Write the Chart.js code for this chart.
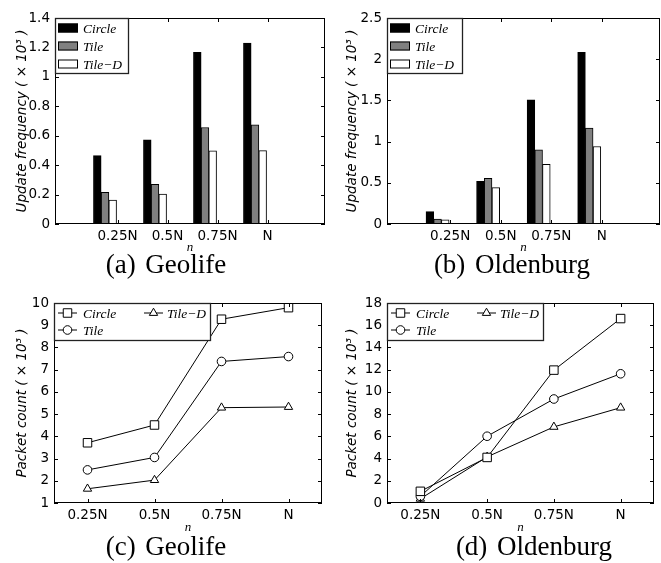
<!DOCTYPE html>
<html>
<head>
<meta charset="utf-8">
<script src="https://cdn.jsdelivr.net/npm/chart.js@4.4.0/dist/chart.umd.min.js"></script>
<style>
  body { margin: 0; background: #fff; width: 661px; height: 563px; position: relative; overflow: hidden; }
  canvas { position: absolute; }
  .cap { position: absolute; font-family: 'Liberation Serif', serif; font-size: 27px; line-height: 1;
         word-spacing: 3px; transform: translateX(-50%); white-space: nowrap; color: #000; }
</style>
</head>
<body>
<canvas id="chartA" width="330" height="255" style="left:0;top:0"></canvas>
<canvas id="chartB" width="331" height="255" style="left:330px;top:0"></canvas>
<canvas id="chartC" width="330" height="255" style="left:0;top:280px"></canvas>
<canvas id="chartD" width="331" height="255" style="left:330px;top:280px"></canvas>
<div class="cap" style="left:166px;top:251px">(a) Geolife</div>
<div class="cap" style="left:512px;top:251px">(b) Oldenburg</div>
<div class="cap" style="left:166px;top:533px">(c) Geolife</div>
<div class="cap" style="left:534px;top:533px">(d) Oldenburg</div>
<script>
// categories and series names
var categories = ['0.25N', '0.5N', '0.75N', 'N'];
var seriesNames = ['Circle', 'Tile', 'Tile\u2212D'];

// (a) Geolife, update frequency (x 10^3)
var geoUpdCircle = [0.465, 0.572, 1.166, 1.23];
var geoUpdTile   = [0.216, 0.27, 0.656, 0.674];
var geoUpdTileD  = [0.163, 0.204, 0.497, 0.499];

// (b) Oldenburg, update frequency (x 10^3)
var oldUpdCircle = [0.15, 0.519, 1.507, 2.083];
var oldUpdTile   = [0.06, 0.555, 0.9, 1.163];
var oldUpdTileD  = [0.05, 0.442, 0.725, 0.94];

// (c) Geolife, packet count (x 10^3)
var geoPktCircle = [3.71, 4.51, 9.27, 9.79];
var geoPktTile   = [2.49, 3.05, 7.37, 7.59];
var geoPktTileD  = [1.64, 2.03, 5.29, 5.32];

// (d) Oldenburg, packet count (x 10^3)
var oldPktCircle = [1.05, 4.1, 11.96, 16.6];
var oldPktTile   = [0.6, 6.01, 9.36, 11.63];
var oldPktTileD  = [0.38, 4.15, 6.85, 8.58];

Chart.defaults.font.family = '"DejaVu Sans", sans-serif';
Chart.defaults.font.size = 13.5;
Chart.defaults.color = '#000';

// рамка вокруг области и внутренние засечки, как в matlab
var framePlugin = {
    id: 'frame',
    afterDraw: function(chart) {
        var ctx = chart.ctx, a = chart.chartArea;
        var x = chart.scales.x, y = chart.scales.y;
        ctx.save();
        ctx.strokeStyle = '#000';
        ctx.lineWidth = 1;
        ctx.strokeRect(Math.round(a.left) + 0.5, Math.round(a.top) + 0.5,
                       Math.round(a.right - a.left) - 1, Math.round(a.bottom - a.top) - 1);
        ctx.beginPath();
        y.ticks.forEach(function(t) {
            var py = Math.round(y.getPixelForValue(t.value)) + 0.5;
            ctx.moveTo(a.left, py); ctx.lineTo(a.left + 4, py);
            ctx.moveTo(a.right - 4, py); ctx.lineTo(a.right, py);
        });
        x.ticks.forEach(function(t, i) {
            var px = Math.round(x.getPixelForTick(i)) + 0.5;
            ctx.moveTo(px, a.bottom); ctx.lineTo(px, a.bottom - 4);
            ctx.moveTo(px, a.top); ctx.lineTo(px, a.top + 4);
        });
        ctx.stroke();
        ctx.restore();
    }
};

// легенда в рамке внутри области графика
var boxLegend = {
    id: 'boxLegend',
    afterDraw: function(chart, args, opts) {
        if (!opts.w) return;
        var ctx = chart.ctx, a = chart.chartArea;
        var L = Math.round(a.left), T = Math.round(a.top);
        ctx.save();
        ctx.fillStyle = '#fff';
        ctx.fillRect(L, T, opts.w, opts.h);
        ctx.strokeStyle = '#222';
        ctx.lineWidth = 1.3;
        ctx.strokeRect(L + 0.5, T + 0.5, opts.w, opts.h);
        ctx.font = 'italic 13.5px "Liberation Serif", serif';
        ctx.textBaseline = 'middle';
        ctx.textAlign = 'left';
        chart.data.datasets.forEach(function(ds, i) {
            var it = opts.items[i];
            var cy = T + it.y;
            if (opts.kind === 'bar') {
                ctx.fillStyle = ds.backgroundColor;
                ctx.fillRect(L + it.x0, cy - 4.5, it.x1 - it.x0, 9);
                ctx.strokeStyle = '#000';
                ctx.lineWidth = 1;
                ctx.strokeRect(L + it.x0 + 0.5, cy - 4, it.x1 - it.x0 - 1, 8);
            } else {
                ctx.strokeStyle = '#000';
                ctx.lineWidth = 1;
                ctx.beginPath();
                ctx.moveTo(L + it.x0, cy); ctx.lineTo(L + it.x1, cy);
                ctx.stroke();
                ctx.fillStyle = '#fff';
                Chart.helpers.drawPoint(ctx, {
                    pointStyle: ds.pointStyle, radius: ds.pointRadius, borderWidth: 1, rotation: 0
                }, L + (it.x0 + it.x1) / 2, cy);
            }
            ctx.fillStyle = '#000';
            ctx.fillText(ds.label, L + it.tx, cy + 1);
        });
        ctx.restore();
    }
};

function yAxis(cfg) {
    return {
        min: cfg.yMin, max: cfg.yMax,
        grid: { display: false, drawTicks: false },
        border: { display: false },
        ticks: {
            stepSize: cfg.yStep, padding: 5,
            // "1" вместо "1.0"
            callback: function(v) { return String(Math.round(v * 100) / 100); }
        },
        title: {
            display: true, text: cfg.yTitle,
            font: { size: 13.5, style: 'italic' },
            padding: { top: 14, bottom: 0 }
        },
        afterFit: function(s) { s.width = cfg.yWidth; }
    };
}

function xTitle() {
    return { display: true, text: 'n', font: { family: '"Liberation Serif", serif', size: 13, style: 'italic' },
             padding: { top: 0, bottom: 0 } };
}

function makeBarChart(id, cfg, series) {
    var colors = ['#000000', '#808080', '#ffffff'];
    var datasets = series.map(function(vals, s) {
        return {
            label: seriesNames[s],
            data: vals.map(function(v, i) { return { x: i + 1, y: v }; }),
            backgroundColor: colors[s],
            borderColor: '#000',
            borderWidth: 1,
            barThickness: 7.7
        };
    });
    new Chart(document.getElementById(id), {
        type: 'bar',
        data: { datasets: datasets },
        options: {
            responsive: false, animation: false, devicePixelRatio: 1,
            layout: { padding: { top: cfg.padTop, right: cfg.padRight, left: 0, bottom: 0 } },
            scales: {
                x: {
                    type: 'linear', min: 0, max: 5.4, offset: false,
                    grid: { display: false, drawTicks: false },
                    border: { display: false },
                    afterBuildTicks: function(scale) {
                        scale.ticks = [1.25, 2.25, 3.25, 4.25].map(function(v) { return { value: v }; });
                    },
                    ticks: {
                        autoSkip: false, maxRotation: 0, padding: 4,
                        callback: function(v, i) { return categories[i]; }
                    },
                    title: xTitle(),
                    afterFit: function(s) { s.height = cfg.xHeight; }
                },
                y: yAxis(cfg)
            },
            plugins: {
                legend: { display: false },
                tooltip: { enabled: false },
                boxLegend: cfg.legend
            }
        },
        plugins: [framePlugin, boxLegend]
    });
}

function makeLineChart(id, cfg, series) {
    var styles = [['rect', 6], ['circle', 4.3], ['triangle', 4.8]];
    var datasets = series.map(function(vals, s) {
        return {
            label: seriesNames[s],
            data: vals,
            borderColor: '#000',
            borderWidth: 1,
            backgroundColor: '#fff',
            pointStyle: styles[s][0],
            pointRadius: styles[s][1],
            pointBorderWidth: 1,
            pointBorderColor: '#000',
            pointBackgroundColor: '#fff',
            tension: 0
        };
    });
    new Chart(document.getElementById(id), {
        type: 'line',
        data: { labels: categories, datasets: datasets },
        options: {
            responsive: false, animation: false, devicePixelRatio: 1,
            layout: { padding: { top: cfg.padTop, right: cfg.padRight, left: 0, bottom: 0 } },
            scales: {
                x: {
                    offset: true,
                    grid: { display: false, drawTicks: false, offset: false },
                    border: { display: false },
                    ticks: { autoSkip: false, maxRotation: 0, padding: 4 },
                    title: xTitle(),
                    afterFit: function(s) { s.height = cfg.xHeight; }
                },
                y: yAxis(cfg)
            },
            plugins: {
                legend: { display: false },
                tooltip: { enabled: false },
                boxLegend: cfg.legend
            }
        },
        plugins: [framePlugin, boxLegend]
    });
}

var barLegendItems = [
    { y: 10, x0: 3, x1: 23, tx: 28 },
    { y: 28, x0: 3, x1: 23, tx: 28 },
    { y: 46, x0: 3, x1: 23, tx: 28 }
];
var lineLegendItems = [
    { y: 10, x0: 4, x1: 23, tx: 29 },
    { y: 27, x0: 4, x1: 23, tx: 29 },
    { y: 10, x0: 90, x1: 109, tx: 113 }
];

document.addEventListener('DOMContentLoaded', function() {
    makeBarChart('chartA', {
        padTop: 18, padRight: 5, yWidth: 55, xHeight: 31,
        yMin: 0, yMax: 1.4, yStep: 0.2,
        yTitle: 'Update frequency ( \u00d7 10\u00b3 )',
        legend: { kind: 'bar', w: 73, h: 55, items: barLegendItems }
    }, [geoUpdCircle, geoUpdTile, geoUpdTileD]);

    makeBarChart('chartB', {
        padTop: 18, padRight: 1, yWidth: 57, xHeight: 31,
        yMin: 0, yMax: 2.5, yStep: 0.5,
        yTitle: 'Update frequency ( \u00d7 10\u00b3 )',
        legend: { kind: 'bar', w: 75, h: 55, items: barLegendItems }
    }, [oldUpdCircle, oldUpdTile, oldUpdTileD]);

    makeLineChart('chartC', {
        padTop: 23, padRight: 8, yWidth: 54, xHeight: 32,
        yMin: 1, yMax: 10, yStep: 1,
        yTitle: 'Packet count ( \u00d7 10\u00b3 )',
        legend: { kind: 'line', w: 156, h: 37, items: lineLegendItems }
    }, [geoPktCircle, geoPktTile, geoPktTileD]);

    makeLineChart('chartD', {
        padTop: 23, padRight: 6, yWidth: 57, xHeight: 32,
        yMin: 0, yMax: 18, yStep: 2,
        yTitle: 'Packet count ( \u00d7 10\u00b3 )',
        legend: { kind: 'line', w: 156, h: 37, items: lineLegendItems }
    }, [oldPktCircle, oldPktTile, oldPktTileD]);
});
</script>
</body>
</html>
